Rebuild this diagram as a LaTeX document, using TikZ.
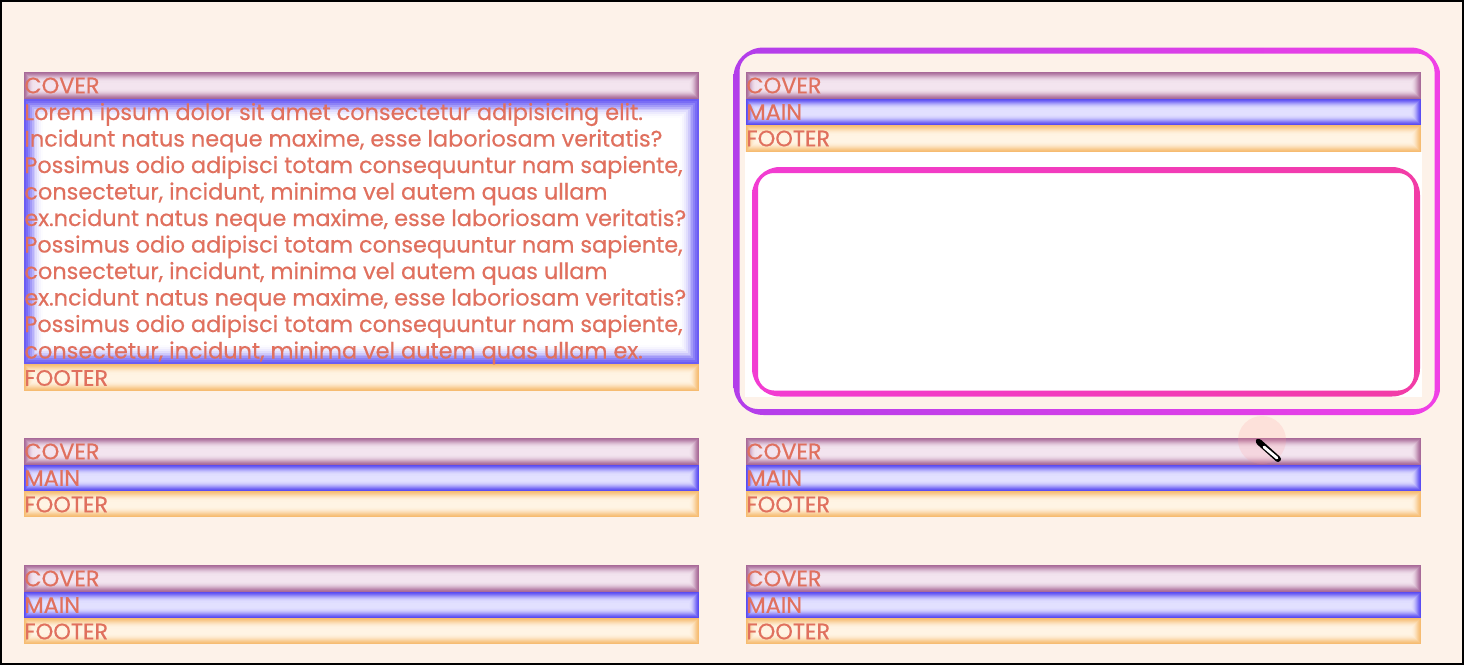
\documentclass[tikz,border=0pt]{standalone}
\usepackage{fontspec}
\setmainfont{Poppins}[FakeBold=0.4]
\usetikzlibrary{calc}
\definecolor{bg}{HTML}{FDF2E9}
\definecolor{txt}{HTML}{E0705E}
\definecolor{covE}{HTML}{A86A98}
\definecolor{covC}{HTML}{F3E4EF}
\definecolor{mainE}{HTML}{5A4CF2}
\definecolor{mainC}{HTML}{E2E0FF}
\definecolor{footE}{HTML}{F6BC72}
\definecolor{footC}{HTML}{FFF4E4}
\definecolor{loremE}{HTML}{6A5CF4}
\definecolor{ringL}{HTML}{B23EEA}
\definecolor{ringR}{HTML}{F040E6}
\definecolor{pinkL}{HTML}{F23CD2}
\definecolor{pinkR}{HTML}{F23CA6}
% x1 y1 x2 y2 edge centre step
\newcommand\insetband[7]{%
  \foreach \i/\p in {0/100,1/90,2/77,3/62,4/47,5/33,6/21,7/12,8/6,9/2,10/0}{%
    \fill[#5!\p!#6] ({#1+\i*#7},{#2+\i*#7}) rectangle ({#3-\i*#7},{#4-\i*#7});
  }%
}
\tikzset{
  lbl/.style={text=txt, inner sep=0pt, font=\fontsize{11.2}{12}\selectfont},
}
\begin{document}
\begin{tikzpicture}[x=0.5pt,y=-0.5pt]
\useasboundingbox (0,0) rectangle (1464,665);
\fill[bg] (0,0) rectangle (1464,665);
\draw[black, line width=1pt] (1,1) rectangle (1463,664);

% ---------- left column, row 1 ----------
\insetband{24}{72}{699}{99}{covE}{covC}{1.05}
\insetband{24}{99}{699}{364}{loremE}{white}{1.9}
\insetband{24}{364}{699}{391}{footE}{footC}{1.05}
\node[lbl, anchor=west] (lc1) at (24,85.5) {COVER};
\node[lbl, anchor=west] (lf1) at (24,378) {FOOTER};
\foreach \t [count=\k from 0] in {
  {Lorem ipsum dolor sit amet consectetur adipisicing elit.},
  {Incidunt natus neque maxime, esse laboriosam veritatis?},
  {Possimus odio adipisci totam consequuntur nam sapiente,},
  {consectetur, incidunt, minima vel autem quas ullam},
  {ex.ncidunt natus neque maxime, esse laboriosam veritatis?},
  {Possimus odio adipisci totam consequuntur nam sapiente,},
  {consectetur, incidunt, minima vel autem quas ullam},
  {ex.ncidunt natus neque maxime, esse laboriosam veritatis?},
  {Possimus odio adipisci totam consequuntur nam sapiente,},
  {consectetur, incidunt, minima vel autem quas ullam ex.}}
  \node[lbl, anchor=base west] (lorem\k) at (24,{120+\k*26.5}) {\t};

% ---------- right column, row 1 ----------
\fill[white] (745,152) rectangle (1422,397);
\insetband{746}{72}{1421}{99}{covE}{covC}{1.05}
\insetband{746}{99}{1421}{125}{mainE}{mainC}{1.05}
\insetband{746}{125}{1421}{152}{footE}{footC}{1.05}
\node[lbl, anchor=west] (rc1) at (746,85.5) {COVER};
\node[lbl, anchor=west] (rm1) at (746,112) {MAIN};
\node[lbl, anchor=west] (rf1) at (746,138.5) {FOOTER};
% purple ring
\shade[left color=ringL, right color=ringR, even odd rule]
  [rounded corners=15] (733.5,47.5) rectangle (1440.5,415)
  [rounded corners=9] (739.5,53.5) rectangle (1434.5,409);
% pink ring
\shade[left color=pinkL, right color=pinkR, even odd rule]
  [rounded corners=14] (752,167) rectangle (1420,396.5)
  [rounded corners=8] (758,173) rectangle (1414,390.5);

% ---------- rows 2 and 3 ----------
\foreach \col/\x in {l/24, r/746}{
  \foreach \row/\y in {2/438, 3/565}{
    \insetband{\x}{\y}{\x+675}{\y+27}{covE}{covC}{1.05}
    \insetband{\x}{\y+27}{\x+675}{\y+53}{mainE}{mainC}{1.05}
    \insetband{\x}{\y+53}{\x+675}{\y+79}{footE}{footC}{1.05}
    \node[lbl, anchor=west] (\col c\row) at (\x,\y+13.5) {COVER};
    \node[lbl, anchor=west] (\col m\row) at (\x,\y+40) {MAIN};
    \node[lbl, anchor=west] (\col f\row) at (\x,\y+66.5) {FOOTER};
  }
}

% ---------- cursor ----------
\fill[pink!80!red, opacity=0.18] (1262,440) circle (24);
\draw[black, line width=3pt, line cap=round] (1259,442) -- (1278,459);
\draw[white, line width=1.4pt, line cap=round] (1264,447) -- (1277,458);
\fill[black] (1258,441) circle (2.2);
\end{tikzpicture}
\end{document}
